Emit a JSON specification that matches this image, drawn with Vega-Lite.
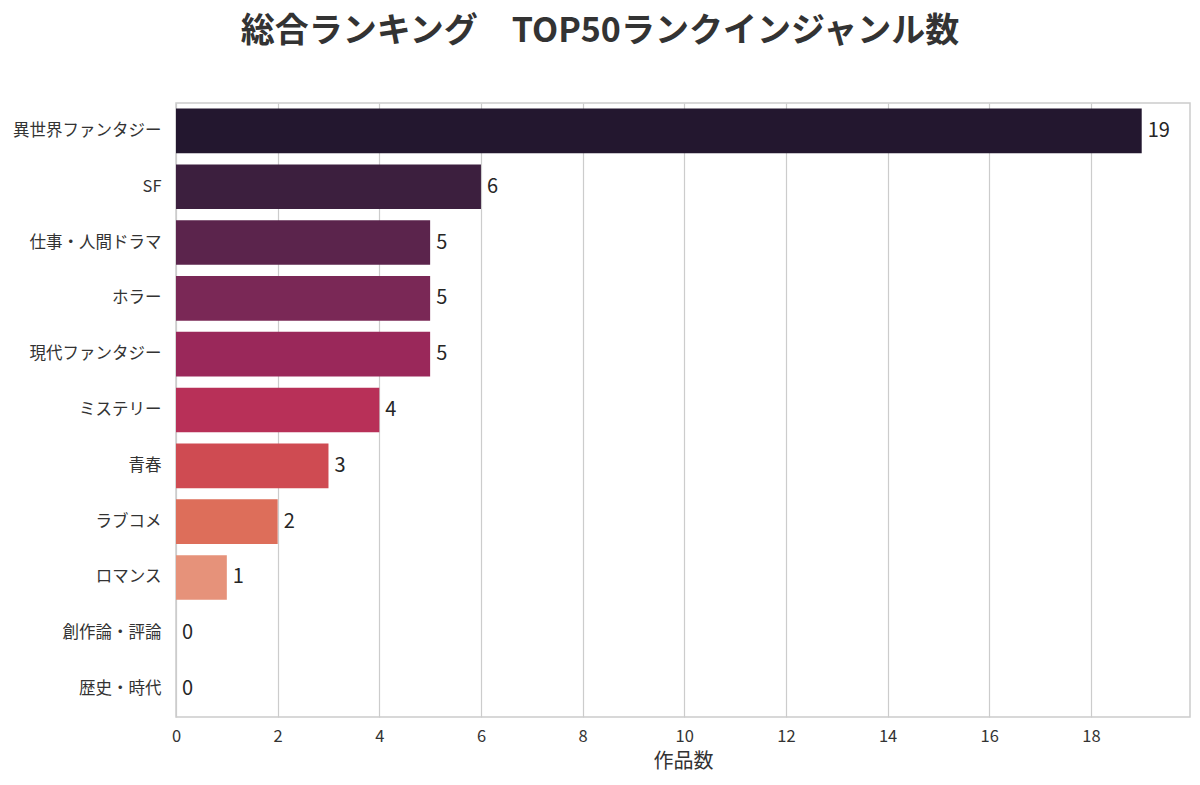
{
  "$schema": "https://vega.github.io/schema/vega-lite/v6.json",
  "width": 1014,
  "height": 614,
  "autosize": "none",
  "padding": {"left": 176, "top": 103, "right": 10, "bottom": 68},
  "background": "white",
  "config": {
    "font": "Noto Sans CJK JP",
    "view": {"stroke": "#cccccc", "strokeWidth": 1.5}
  },
  "title": {
    "text": "総合ランキング　TOP50ランクインジャンル数",
    "fontSize": 34,
    "fontWeight": "bold",
    "color": "#333333",
    "anchor": "middle",
    "dx": -83,
    "offset": 54
  },
  "data": {
    "values": [
      {"genre": "異世界ファンタジー", "count": 19},
      {"genre": "SF", "count": 6},
      {"genre": "仕事・人間ドラマ", "count": 5},
      {"genre": "ホラー", "count": 5},
      {"genre": "現代ファンタジー", "count": 5},
      {"genre": "ミステリー", "count": 4},
      {"genre": "青春", "count": 3},
      {"genre": "ラブコメ", "count": 2},
      {"genre": "ロマンス", "count": 1},
      {"genre": "創作論・評論", "count": 0},
      {"genre": "歴史・時代", "count": 0}
    ]
  },
  "encoding": {
    "y": {
      "field": "genre",
      "type": "nominal",
      "sort": null,
      "scale": {"paddingInner": 0.2, "paddingOuter": 0.1},
      "axis": {
        "title": null,
        "domain": false,
        "ticks": false,
        "labelFontSize": 16.5,
        "labelColor": "#333333",
        "labelPadding": 15,
        "grid": false
      }
    },
    "x": {
      "field": "count",
      "type": "quantitative",
      "scale": {"domain": [0, 19.95], "nice": false},
      "axis": {
        "title": "作品数",
        "titleFontSize": 20,
        "titleFontWeight": "normal",
        "titleColor": "#333333",
        "titlePadding": 7,
        "values": [0, 2, 4, 6, 8, 10, 12, 14, 16, 18],
        "domain": false,
        "ticks": false,
        "labelFlush": false,
        "labelFontSize": 16.5,
        "labelColor": "#333333",
        "labelPadding": 11,
        "grid": true,
        "gridColor": "#cccccc",
        "gridWidth": 1.2
      }
    }
  },
  "layer": [
    {
      "mark": {"type": "bar"},
      "encoding": {
        "color": {
          "field": "genre",
          "type": "nominal",
          "legend": null,
          "scale": {
            "domain": ["異世界ファンタジー", "SF", "仕事・人間ドラマ", "ホラー", "現代ファンタジー", "ミステリー", "青春", "ラブコメ", "ロマンス", "創作論・評論", "歴史・時代"],
            "range": ["#23172f", "#3c1f3e", "#5b244c", "#7a2856", "#9a285a", "#b83058", "#cf4b52", "#dd6e5a", "#e6927a", "#eab79c", "#f3dccb"]
          }
        }
      }
    },
    {
      "mark": {"type": "text", "align": "left", "baseline": "middle", "dx": 6, "fontSize": 20, "color": "#262626"},
      "encoding": {
        "text": {"field": "count", "type": "quantitative"}
      }
    }
  ]
}
